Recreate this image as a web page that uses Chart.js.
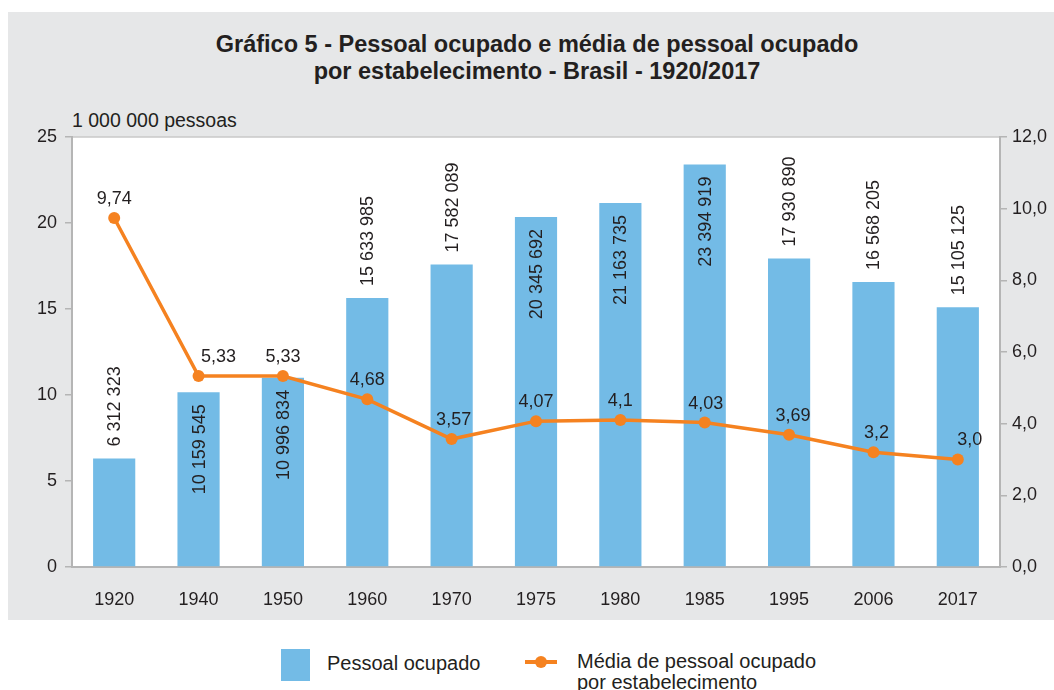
<!DOCTYPE html>
<html lang="pt">
<head>
<meta charset="UTF-8">
<title>Gráfico 5 - Pessoal ocupado</title>
<script src="https://cdn.jsdelivr.net/npm/chart.js"></script>
<style>
  body { margin: 0; background: #fff; font-family: "Liberation Sans", Arial, sans-serif; color: #231f20; }
  #wrap { position: relative; width: 1054px; height: 690px; overflow: hidden; }
  #painel { position: absolute; left: 8px; top: 12px; width: 1046px; height: 608px; background: #e6e7e8; }
  #grafico { position: absolute; left: 0; top: 0; }
  #titulo { position: absolute; left: 0; top: 31px; width: 1074px; text-align: center; font-weight: bold; font-size: 23.5px; line-height: 27px; }
  #unidade { position: absolute; left: 72px; top: 109px; font-size: 19.5px; }
  .leg { position: absolute; font-size: 20px; line-height: 21px; }
</style>
</head>
<body>
<div id="wrap">
  <div id="painel"></div>
  <div id="titulo">Gráfico 5 - Pessoal ocupado e média de pessoal ocupado<br>por estabelecimento - Brasil - 1920/2017</div>
  <div id="unidade">1 000 000 pessoas</div>
  <canvas id="grafico" width="1054" height="620"></canvas>

  <!-- legenda -->
  <div class="leg" style="left:281px; top:649px; width:29px; height:32px; background:#73bbe6;"></div>
  <div class="leg" style="left:327px; top:653px;">Pessoal ocupado</div>
  <div class="leg" style="left:525px; top:660px; width:32px; height:4px; background:#f58220;"></div>
  <div class="leg" style="left:535px; top:656px; width:12px; height:12px; border-radius:6px; background:#f58220;"></div>
  <div class="leg" style="left:577px; top:651px;">Média de pessoal ocupado<br>por estabelecimento</div>
</div>

<script>
// dados do gráfico
const anos = ['1920', '1940', '1950', '1960', '1970', '1975', '1980', '1985', '1995', '2006', '2017'];
const pessoalOcupado = [6312323, 10159545, 10996834, 15633985, 17582089, 20345692, 21163735, 23394919, 17930890, 16568205, 15105125];
const mediaPorEstab = [9.74, 5.33, 5.33, 4.68, 3.57, 4.07, 4.1, 4.03, 3.69, 3.2, 3.0];
const ticksEsq = [0, 5, 10, 15, 20, 25];
const ticksDir = [0, 2, 4, 6, 8, 10, 12];

const AZUL = '#73bbe6';
const LARANJA = '#f58220';
const TEXTO = '#231f20';
const EIXO = '#b5b5b5';

// onde fica o rótulo de cada barra (acima ou dentro)
const posRotulo = ['acima', 'dentro', 'dentro', 'acima', 'acima', 'dentro', 'dentro', 'dentro', 'acima', 'acima', 'acima'];
// pequeno deslocamento horizontal dos rótulos da linha
const desvioLinha = [0, 20, 0, 0, 2, 0, 0, 1, 4, 3, 12];

function milhar(n) {
    return String(n).replace(/\B(?=(\d{3})+(?!\d))/g, ' ');
}
function decimal(v) {
    const s = Number.isInteger(v) ? v.toFixed(1) : String(v);
    return s.replace('.', ',');
}

// fundo branco da área do gráfico
const fundo = {
    id: 'fundo',
    beforeDraw(chart) {
        const { ctx, chartArea: a } = chart;
        ctx.save();
        ctx.fillStyle = '#fff';
        ctx.fillRect(a.left, a.top, a.right - a.left, a.bottom - a.top);
        ctx.strokeStyle = '#c9c9c9';
        ctx.lineWidth = 1.5;
        ctx.beginPath();
        ctx.moveTo(a.left, a.top);
        ctx.lineTo(a.right, a.top);
        ctx.stroke();
        ctx.restore();
    }
};

// rótulos das barras e da linha
const rotulos = {
    id: 'rotulos',
    afterDatasetsDraw(chart) {
        const ctx = chart.ctx;
        ctx.save();
        ctx.fillStyle = TEXTO;
        ctx.font = '18px "Liberation Sans", Arial, sans-serif';
        ctx.textBaseline = 'middle';

        chart.getDatasetMeta(1).data.forEach((barra, i) => {
            const dentro = posRotulo[i] === 'dentro';
            ctx.save();
            ctx.translate(barra.x, barra.y + (dentro ? 12 : -12));
            ctx.rotate(-Math.PI / 2);
            ctx.textAlign = dentro ? 'right' : 'left';
            ctx.fillText(milhar(pessoalOcupado[i]), 0, 1);
            ctx.restore();
        });

        ctx.textAlign = 'center';
        chart.getDatasetMeta(0).data.forEach((p, i) => {
            ctx.fillText(decimal(mediaPorEstab[i]), p.x + desvioLinha[i], p.y - 19);
        });
        ctx.restore();
    }
};

const ctx = document.getElementById('grafico').getContext('2d');
new Chart(ctx, {
    data: {
        labels: anos,
        datasets: [
            {
                type: 'line',
                label: 'Média de pessoal ocupado por estabelecimento',
                data: mediaPorEstab,
                yAxisID: 'yDir',
                borderColor: LARANJA,
                backgroundColor: LARANJA,
                borderWidth: 3.5,
                pointRadius: 6,
                pointBorderWidth: 0,
                tension: 0,
                order: 0
            },
            {
                type: 'bar',
                label: 'Pessoal ocupado',
                data: pessoalOcupado.map(v => v / 1e6),
                yAxisID: 'yEsq',
                backgroundColor: AZUL,
                barPercentage: 0.5,
                categoryPercentage: 1,
                order: 1
            }
        ]
    },
    options: {
        responsive: false,
        animation: false,
        layout: { padding: { left: 8, right: 0, top: 137, bottom: 0 } },
        plugins: {
            legend: { display: false },
            tooltip: { enabled: false }
        },
        scales: {
            x: {
                grid: { display: false },
                border: { display: true, color: EIXO, width: 2 },
                ticks: { color: TEXTO, font: { size: 18, family: '"Liberation Sans", Arial, sans-serif' }, padding: 14 },
                afterFit(s) { s.height = 53; }
            },
            yEsq: {
                position: 'left',
                min: 0,
                max: 25,
                afterBuildTicks(s) { s.ticks = ticksEsq.map(v => ({ value: v })); },
                grid: { drawOnChartArea: false, drawTicks: true, tickLength: 7, color: EIXO, lineWidth: 1.5 },
                border: { display: true, color: EIXO, width: 2 },
                ticks: { color: TEXTO, font: { size: 18, family: '"Liberation Sans", Arial, sans-serif' }, padding: 8 },
                afterFit(s) { s.width = 64; }
            },
            yDir: {
                position: 'right',
                min: 0,
                max: 12,
                afterBuildTicks(s) { s.ticks = ticksDir.map(v => ({ value: v })); },
                grid: { drawOnChartArea: false, drawTicks: true, tickLength: 7, color: EIXO, lineWidth: 1.5 },
                border: { display: true, color: EIXO, width: 2 },
                ticks: {
                    color: TEXTO,
                    font: { size: 18, family: '"Liberation Sans", Arial, sans-serif' },
                    padding: 5,
                    callback: v => v.toFixed(1).replace('.', ',')
                },
                afterFit(s) { s.width = 54; }
            }
        }
    },
    plugins: [fundo, rotulos]
});
</script>
</body>
</html>
